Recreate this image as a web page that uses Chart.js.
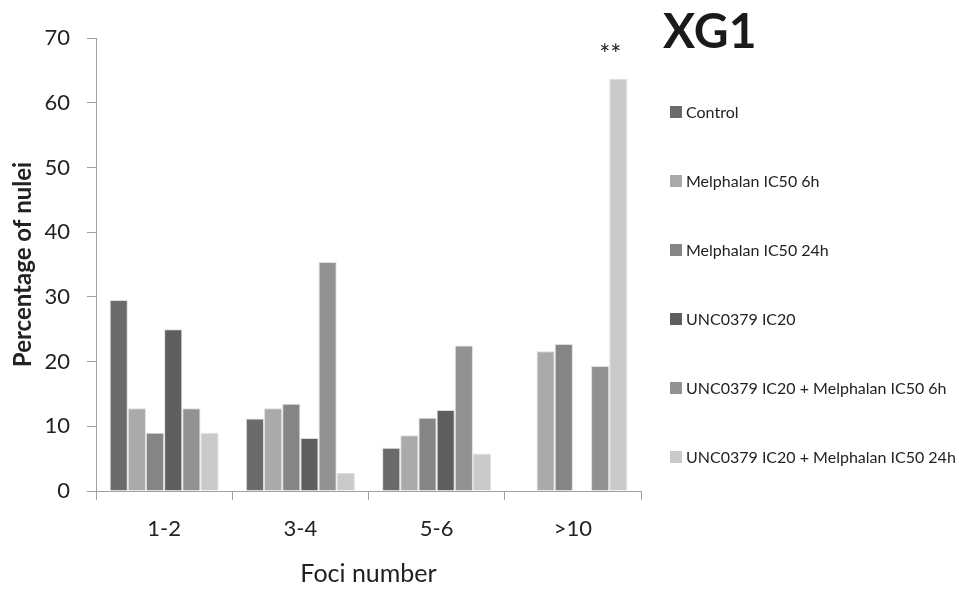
<!DOCTYPE html>
<html>
<head>
<meta charset="utf-8">
<script src="https://cdn.jsdelivr.net/npm/chart.js@4"></script>
<style>
  body { margin: 0; background: #fff; }
  #wrap { width: 959px; height: 589px; }
</style>
</head>
<body>
<div id="wrap"><canvas id="fociChart" width="959" height="589"></canvas></div>
<script>
const categories = ["1-2", "3-4", "5-6", ">10"];
const seriesNames = [
    "Control", "Melphalan IC50 6h", "Melphalan IC50 24h",
    "UNC0379 IC20", "UNC0379 IC20 + Melphalan IC50 6h", "UNC0379 IC20 + Melphalan IC50 24h"
];
const control = [29.5, 11.2, 6.7, 0];
const melphalan6h = [12.8, 12.8, 8.6, 21.6];
const melphalan24h = [9.0, 13.5, 11.3, 22.7];
const unc0379 = [25.0, 8.2, 12.5, 0];
const uncMelphalan6h = [12.8, 35.4, 22.5, 19.3];
const uncMelphalan24h = [9.0, 2.8, 5.8, 63.7];
const yTicks = [0, 10, 20, 30, 40, 50, 60, 70];

const seriesValues = [control, melphalan6h, melphalan24h, unc0379, uncMelphalan6h, uncMelphalan24h];
const seriesColors = ["#6c6b6c", "#aaaaaa", "#868586", "#5f5e5f", "#939293", "#cacaca"];
const axisColor = "#a0a0a0";
const textColor = "#222";

// legend, title and the ** marker drawn by hand (Excel-like layout)
const extrasPlugin = {
    id: "extras",
    afterDraw(chart) {
        const ctx = chart.ctx;
        ctx.save();
        ctx.textBaseline = "middle";
        ctx.font = "16px Lato";
        chart.data.datasets.forEach(function(ds, i) {
            const y = 112 + i * 69;
            ctx.fillStyle = ds.backgroundColor;
            ctx.fillRect(670, y - 6, 12, 12);
            ctx.fillStyle = textColor;
            ctx.textAlign = "left";
            ctx.fillText(ds.label, 686, y + 1);
        });

        ctx.font = "bold 48px Lato";
        ctx.fillStyle = "#1a1a1a";
        ctx.fillText("XG1", 663, 33);

        // significance marker above the tallest >10 bar
        const bar = chart.getDatasetMeta(5).data[3];
        ctx.font = "26px Lato";
        ctx.textAlign = "center";
        ctx.textBaseline = "alphabetic";
        ctx.fillStyle = textColor;
        ctx.fillText("**", bar.x - 8, 64);
        ctx.restore();
    }
};

new Chart(document.getElementById("fociChart"), {
    type: "bar",
    data: {
        labels: categories,
        datasets: seriesNames.map(function(name, i) {
            return {
                label: name,
                data: seriesValues[i],
                backgroundColor: seriesColors[i],
                borderColor: "rgba(200,200,200,0.6)",
                borderWidth: 1,
                categoryPercentage: 0.8,
                barPercentage: 1.0
            };
        })
    },
    options: {
        responsive: false,
        animation: false,
        layout: { padding: { top: 38, right: 318, left: 0, bottom: 0 } },
        plugins: {
            legend: { display: false },
            tooltip: { enabled: false }
        },
        scales: {
            x: {
                grid: { drawOnChartArea: false, offset: true, tickLength: 9, color: axisColor },
                border: { color: axisColor },
                ticks: { font: { family: "Lato", size: 22 }, color: textColor, padding: 16 },
                title: {
                    display: true, text: "Foci number", color: textColor,
                    font: { family: "Lato", size: 25 }, padding: { top: 0, bottom: 0 }
                },
                afterFit: function(s) { s.height = 98; }
            },
            y: {
                min: 0, max: 70,
                afterBuildTicks: function(s) { s.ticks = yTicks.map(function(v) { return { value: v }; }); },
                grid: { drawOnChartArea: false, tickLength: 9, color: axisColor },
                border: { color: axisColor },
                ticks: { font: { family: "Lato", size: 22 }, color: textColor, padding: 17 },
                title: {
                    display: true, text: "Percentage of nulei", color: textColor,
                    font: { family: "Lato", size: 24, weight: "bold" }, padding: { top: 9, bottom: 0 }
                },
                afterFit: function(s) { s.width = 96; }
            }
        }
    },
    plugins: [extrasPlugin]
});
</script>
</body>
</html>
